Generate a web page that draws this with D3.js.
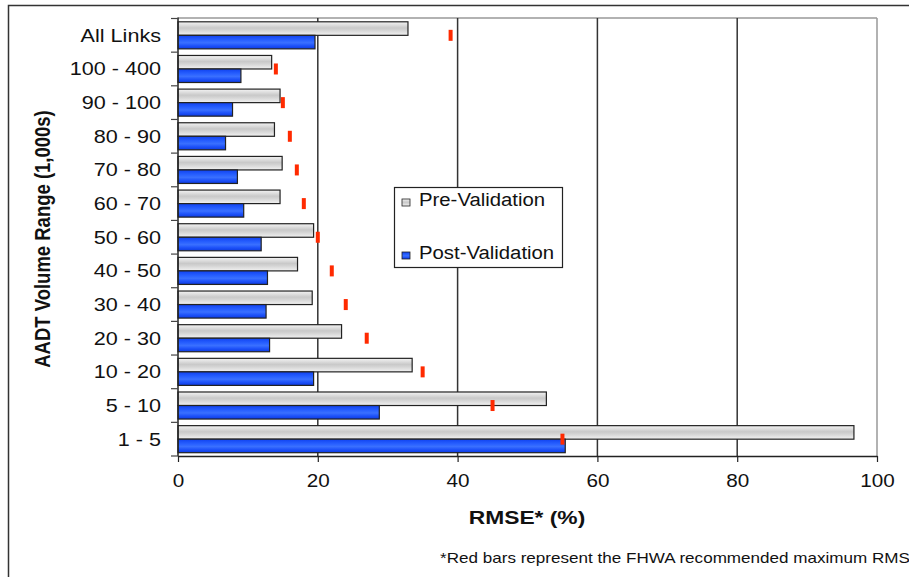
<!DOCTYPE html>
<html>
<head>
<meta charset="utf-8">
<script src="https://cdn.jsdelivr.net/npm/d3@7"></script>
<style>
  html, body { margin: 0; padding: 0; background: #fff; }
  svg { display: block; font-family: "Liberation Sans", Arial, sans-serif; }
</style>
</head>
<body>
<script>
const categories = ["All Links","100 - 400","90 - 100","80 - 90","70 - 80","60 - 70","50 - 60","40 - 50","30 - 40","20 - 30","10 - 20","5 - 10","1 - 5"];
const preValidation  = [32.9, 13.4, 14.6, 13.8, 14.9, 14.6, 19.4, 17.1, 19.2, 23.4, 33.5, 52.7, 96.7];
const postValidation = [19.6, 9.0, 7.8, 6.8, 8.5, 9.4, 11.9, 12.8, 12.6, 13.1, 19.4, 28.8, 55.4];
const fhwaMax        = [39, 14, 15, 16, 17, 18, 20, 22, 24, 27, 35, 45, 55];
const xTicks = [0, 20, 40, 60, 80, 100];
const seriesNames = ["Pre-Validation", "Post-Validation"];

(function(){
const W = 909, H = 577;
const svg = d3.select("body").append("svg").attr("width", W).attr("height", H);

const defs = svg.append("defs");
const gGrey = defs.append("linearGradient").attr("id","gGrey").attr("x1",0).attr("y1",0).attr("x2",0).attr("y2",1);
[[0,"#f4f4f4"],[0.45,"#c9c9c9"],[0.6,"#d2d2d2"],[1,"#f2f2f2"]].forEach(s=>gGrey.append("stop").attr("offset",s[0]).attr("stop-color",s[1]));
const gBlue = defs.append("linearGradient").attr("id","gBlue").attr("x1",0).attr("y1",0).attr("x2",0).attr("y2",1);
[[0,"#1042f0"],[0.35,"#2860ff"],[0.55,"#3a70ff"],[0.75,"#2054fa"],[1,"#0c3ae2"]].forEach(s=>gBlue.append("stop").attr("offset",s[0]).attr("stop-color",s[1]));

// outer frame
svg.append("rect").attr("x",8.5).attr("y",5.5).attr("width",1200).attr("height",1200)
  .attr("fill","none").attr("stroke","#333").attr("stroke-width",1.5);

const pLeft = 178, pRight = 877, pTop = 18.5, pBottom = 456;
const x = d3.scaleLinear().domain([0,100]).range([pLeft,pRight]);
const y = d3.scaleBand().domain(categories).range([pTop,pBottom]).padding(0);
const sub = d3.scaleBand().domain(seriesNames).range([3.3, y.bandwidth()-3.3]).padding(0);

// plot border (grey, top & right)
svg.append("line").attr("x1",pLeft).attr("x2",pRight).attr("y1",pTop-0.5).attr("y2",pTop-0.5).attr("stroke","#999").attr("stroke-width",1.5);
svg.append("line").attr("x1",pRight).attr("x2",pRight).attr("y1",pTop-0.5).attr("y2",pBottom).attr("stroke","#999").attr("stroke-width",1.5);

// gridlines
svg.append("g").selectAll("line").data(xTicks.filter(t=>t>0 && t<100)).join("line")
  .attr("x1",d=>x(d)).attr("x2",d=>x(d)).attr("y1",pTop-0.5).attr("y2",pBottom)
  .attr("stroke","#333").attr("stroke-width",1.5);

// bars
const rows = svg.append("g").selectAll("g").data(categories).join("g")
  .attr("transform",d=>`translate(0,${y(d)})`);
rows.append("rect")
  .attr("x",x(0)).attr("y",sub("Pre-Validation"))
  .attr("width",(d,i)=>x(preValidation[i])-x(0)).attr("height",sub.bandwidth())
  .attr("fill","url(#gGrey)").attr("stroke","#222").attr("stroke-width",1.2);
rows.append("rect")
  .attr("x",x(0)).attr("y",sub("Post-Validation"))
  .attr("width",(d,i)=>x(postValidation[i])-x(0)).attr("height",sub.bandwidth())
  .attr("fill","url(#gBlue)").attr("stroke","#222").attr("stroke-width",1.2);
// red FHWA markers
rows.append("rect")
  .attr("x",(d,i)=>x(fhwaMax[i])-2).attr("y",sub("Post-Validation")-5.5)
  .attr("width",4).attr("height",11)
  .attr("fill","#ff2a00");

// y axis line and boundary ticks
svg.append("line").attr("x1",pLeft).attr("x2",pLeft).attr("y1",pTop-1).attr("y2",pBottom).attr("stroke","#222").attr("stroke-width",1.5);
const bounds = categories.map(c=>y(c)).concat([pBottom]);
svg.append("g").selectAll("line").data(bounds).join("line")
  .attr("x1",pLeft-7).attr("x2",pLeft).attr("y1",d=>d).attr("y2",d=>d)
  .attr("stroke","#444").attr("stroke-width",1.2);

// category labels (reference text is horizontally stretched)
svg.append("g").selectAll("text").data(categories).join("text")
  .attr("transform",d=>`translate(161,${y(d)+y.bandwidth()/2}) scale(1.2,1)`)
  .attr("text-anchor","end").attr("dominant-baseline","central")
  .attr("font-size",18).attr("fill","#111").text(d=>d);

// x axis
const xAxis = svg.append("g").attr("transform",`translate(0,${pBottom})`)
  .call(d3.axisBottom(x).tickValues(xTicks).tickSize(6).tickPadding(12).tickSizeOuter(0));
xAxis.select(".domain").attr("stroke","#222").attr("stroke-width",1.5);
xAxis.selectAll(".tick line").attr("stroke","#222").attr("stroke-width",1.2);
xAxis.selectAll(".tick text").attr("font-size",18).attr("fill","#111")
  .attr("font-family","'Liberation Sans', Arial, sans-serif")
  .attr("transform","scale(1.15,1)");

// axis titles
svg.append("text").attr("transform","translate(527,524) scale(1.2,1)").attr("text-anchor","middle")
  .attr("font-size",19).attr("font-weight","bold").attr("fill","#111").text("RMSE* (%)");
svg.append("text").attr("transform","translate(50,239) rotate(-90) scale(1,1.15)").attr("text-anchor","middle")
  .attr("font-size",18.5).attr("font-weight","bold").attr("fill","#111").text("AADT Volume Range (1,000s)");

// footnote
svg.append("text").attr("transform","translate(440,563) scale(1.22,1)").attr("font-size",14).attr("fill","#111")
  .text("*Red bars represent the FHWA recommended maximum RMSE");

// legend
const lg = svg.append("g");
lg.append("rect").attr("x",394.5).attr("y",187.5).attr("width",168).attr("height",80)
  .attr("fill","#fff").attr("stroke","#222").attr("stroke-width",1.2);
const legendY = [206, 259];
const legendFill = ["url(#gGrey)","url(#gBlue)"];
seriesNames.forEach((s,i)=>{
  lg.append("rect").attr("x",402).attr("y",legendY[i]-7).attr("width",8).attr("height",7)
    .attr("fill",legendFill[i]).attr("stroke","#222").attr("stroke-width",0.8);
  lg.append("text").attr("transform",`translate(419,${legendY[i]}) scale(1.13,1)`)
    .attr("font-size",18).attr("fill","#111").text(s);
});
})();
</script>
</body>
</html>
